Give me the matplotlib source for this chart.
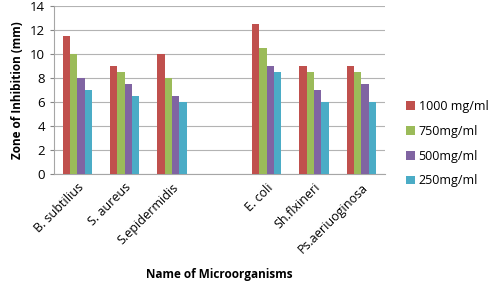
import matplotlib
matplotlib.use("Agg")
import matplotlib.pyplot as plt
import numpy as np

categories = ["B. subtilius", "S. aureus", "S.epidermidis", "", "E. coli", "Sh.flxineri", "Ps.aeriuoginosa"]
series_names = ["1000 mg/ml", "750mg/ml", "500mg/ml", "250mg/ml"]
v1000 = [11.5, 9, 10, np.nan, 12.5, 9, 9]
v750 = [10, 8.5, 8, np.nan, 10.5, 8.5, 8.5]
v500 = [8, 7.5, 6.5, np.nan, 9, 7, 7.5]
v250 = [7, 6.5, 6, np.nan, 8.5, 6, 6]
colors = ["#C0504D", "#9BBB59", "#8064A2", "#4BACC6"]

plt.rcParams['font.family'] = ['Open Sans', 'DejaVu Sans']
fig = plt.figure(figsize=(4.94, 2.86), dpi=100)
ax = fig.add_axes([0.109, 0.392, 0.670, 0.587])

x = np.arange(len(categories))
w = 0.155
for i, (vals, name, c) in enumerate(zip([v1000, v750, v500, v250], series_names, colors)):
    ax.bar(x + (i - 1.5) * w, vals, width=w, color=c, label=name, zorder=3)

ax.set_xlim(-0.5, len(categories) - 0.5)
ax.set_ylim(0, 14)
ax.set_yticks(range(0, 15, 2))
ax.yaxis.grid(True, color="#B3B3B3", linewidth=0.8, zorder=0)
ax.set_xticks(x)
ax.set_xticklabels(categories, rotation=45, ha="right", rotation_mode="anchor", fontsize=9)
ax.tick_params(axis="x", length=0, pad=5)
ax.tick_params(axis="y", length=3, labelsize=9.5, color="#868686")
for s in ["top", "right"]:
    ax.spines[s].set_visible(False)
ax.spines["left"].set_color("#A6A6A6")
ax.spines["bottom"].set_color("#A6A6A6")
ax.set_ylabel("Zone of Inhibition (mm)", fontsize=8.5, fontweight="bold", labelpad=4)
ax.set_xlabel("Name of Microorganisms", fontsize=8.5, fontweight="bold", labelpad=9)

ax.legend(loc="center left", bbox_to_anchor=(1.03, 0.18), frameon=False, fontsize=9,
          handlelength=0.7, handleheight=0.7, handletextpad=0.3, labelspacing=0.95)

fig.savefig("out.png", dpi=100)
